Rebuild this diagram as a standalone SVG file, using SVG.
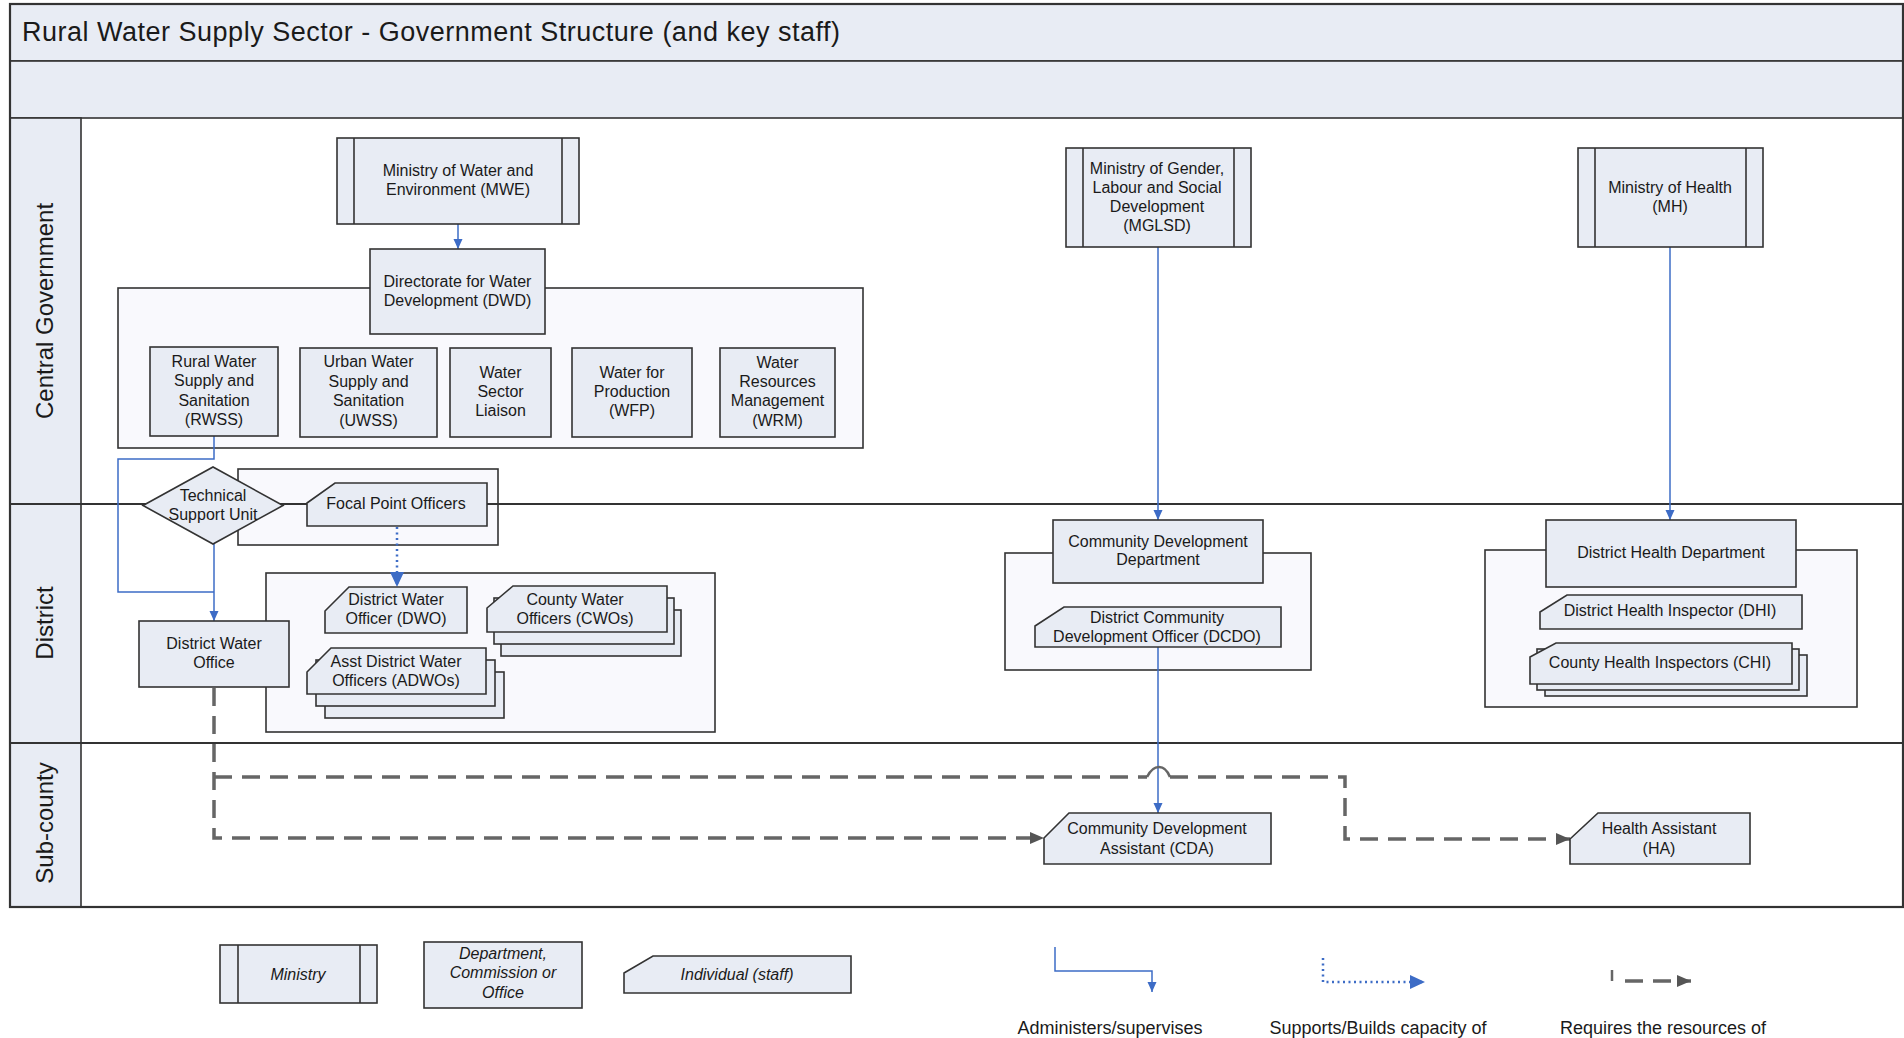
<svg xmlns="http://www.w3.org/2000/svg" width="1904" height="1038" viewBox="0 0 1904 1038">
<style>
  text { font-family: "Liberation Sans", Arial, sans-serif; fill: #1a1a1a; }
  .t { font-size: 16px; text-anchor: middle; }
  .it { font-size: 16px; text-anchor: middle; font-style: italic; }
  .lane { font-size: 24px; text-anchor: middle; }
  .leg { font-size: 18px; text-anchor: middle; }
  .node { fill: #E8ECF4; stroke: #333; stroke-width: 1.6; }
  .inner { stroke: #333; stroke-width: 1.6; fill: none; }
  .cont { fill: #F9F9FD; stroke: #333; stroke-width: 1.6; }
  .band { fill: #E8ECF4; stroke: #333; stroke-width: 1.6; }
  .sep { stroke: #333; stroke-width: 2; fill: none; }
  .adm { stroke: #3D6CC6; stroke-width: 1.5; fill: none; }
  .sup { stroke: #3D6CC6; stroke-width: 2.5; fill: none; stroke-dasharray: 2 3.5; }
  .req { stroke: #666; stroke-width: 3.5; fill: none; stroke-dasharray: 18 10; }
  .hop { stroke: #666; stroke-width: 2.5; fill: none; }
</style>
<defs>
  <marker id="aBlue" markerUnits="userSpaceOnUse" markerWidth="10" markerHeight="10" refX="10" refY="5" orient="auto">
    <path d="M0,0.5 L10,5 L0,9.5 z" fill="#3D6CC6"/>
  </marker>
  <marker id="aDot" markerUnits="userSpaceOnUse" markerWidth="15" markerHeight="14" refX="15" refY="7" orient="auto">
    <path d="M0,0 L15,7 L0,14 z" fill="#3D6CC6"/>
  </marker>
  <marker id="aGray" markerUnits="userSpaceOnUse" markerWidth="14" markerHeight="12" refX="14" refY="6" orient="auto">
    <path d="M0,0 L14,6 L0,12 z" fill="#555"/>
  </marker>
</defs>

<g id="frame">
  <rect x="10" y="4" width="1893" height="903" fill="#fff" stroke="none"/>
  <rect class="band" x="10" y="4" width="1893" height="57"/>
  <rect class="band" x="10" y="61" width="1893" height="57"/>
  <rect class="band" x="10" y="118" width="71" height="789"/>
  <text x="22" y="41" font-size="27" textLength="818" lengthAdjust="spacing">Rural Water Supply Sector - Government Structure (and key staff)</text>
  <text class="lane" transform="translate(53,311) rotate(-90)">Central Government</text>
  <text class="lane" transform="translate(53,623) rotate(-90)">District</text>
  <text class="lane" transform="translate(53,823) rotate(-90)">Sub-county</text>
</g>

<g id="containers">
  <rect id="dwd-container" class="cont" x="118" y="288" width="745" height="160"/>
  <rect id="focal-container" class="cont" x="238" y="469" width="260" height="76"/>
  <rect id="dw-staff-container" class="cont" x="266" y="573" width="449" height="159"/>
  <rect id="cdd-container" class="cont" x="1005" y="553" width="306" height="117"/>
  <rect id="dhd-container" class="cont" x="1485" y="550" width="372" height="157"/>
</g>

<g id="lanes">
  <line class="sep" x1="10" y1="504" x2="1903" y2="504"/>
  <line class="sep" x1="10" y1="743" x2="1903" y2="743"/>
  <rect x="10" y="4" width="1893" height="903" fill="none" stroke="#333" stroke-width="2.2"/>
</g>

<g id="connectors">
  <path class="adm" d="M458,224 L458,249" marker-end="url(#aBlue)"/>
  <path class="adm" d="M214,436 L214,459 L118,459 L118,592 L214,592"/>
  <path class="adm" d="M214,544 L214,621" marker-end="url(#aBlue)"/>
  <path class="sup" d="M397,527 L397,587" marker-end="url(#aDot)"/>
  <path class="adm" d="M1158,247 L1158,520" marker-end="url(#aBlue)"/>
  <path class="adm" d="M1670,247 L1670,520" marker-end="url(#aBlue)"/>
  <path class="adm" d="M1158,647 L1158,813" marker-end="url(#aBlue)"/>
  <path class="req" d="M214,688 L214,838 L1044,838" marker-end="url(#aGray)"/>
  <path class="req" d="M214,777 L1147,777"/>
  <path class="hop" d="M1147,777 Q1152,767 1159,767 Q1166,767 1170,777"/>
  <path class="req" d="M1170,777 L1345,777 L1345,839 L1570,839" marker-end="url(#aGray)"/>
</g>

<g id="mwe">
  <rect class="node" x="337" y="138" width="242" height="86"/>
  <line class="inner" x1="354" y1="138" x2="354" y2="224"/>
  <line class="inner" x1="562" y1="138" x2="562" y2="224"/>
  <text class="t" x="458" y="175.5">Ministry of Water and</text>
  <text class="t" x="458" y="194.5">Environment (MWE)</text>
</g>
<g id="dwd">
  <rect class="node" x="370" y="249" width="175" height="85"/>
  <text class="t" x="457.5" y="286.5">Directorate for Water</text>
  <text class="t" x="457.5" y="305.5">Development (DWD)</text>
</g>
<g id="rwss">
  <rect class="node" x="150" y="347" width="128" height="89"/>
  <text class="t" x="214" y="366.5">Rural Water</text>
  <text class="t" x="214" y="386">Supply and</text>
  <text class="t" x="214" y="405.5">Sanitation</text>
  <text class="t" x="214" y="425">(RWSS)</text>
</g>
<g id="uwss">
  <rect class="node" x="300" y="348" width="137" height="89"/>
  <text class="t" x="368.5" y="367">Urban Water</text>
  <text class="t" x="368.5" y="386.5">Supply and</text>
  <text class="t" x="368.5" y="406">Sanitation</text>
  <text class="t" x="368.5" y="425.5">(UWSS)</text>
</g>
<g id="wsl">
  <rect class="node" x="450" y="348" width="101" height="89"/>
  <text class="t" x="500.5" y="377.5">Water</text>
  <text class="t" x="500.5" y="396.5">Sector</text>
  <text class="t" x="500.5" y="415.5">Liaison</text>
</g>
<g id="wfp">
  <rect class="node" x="572" y="348" width="120" height="89"/>
  <text class="t" x="632" y="377.5">Water for</text>
  <text class="t" x="632" y="396.5">Production</text>
  <text class="t" x="632" y="415.5">(WFP)</text>
</g>
<g id="wrm">
  <rect class="node" x="720" y="348" width="115" height="89"/>
  <text class="t" x="777.5" y="367.5">Water</text>
  <text class="t" x="777.5" y="386.5">Resources</text>
  <text class="t" x="777.5" y="406">Management</text>
  <text class="t" x="777.5" y="425.5">(WRM)</text>
</g>
<g id="tsu">
  <polygon class="node" points="143,505.5 213,467 283,505.5 213,544"/>
  <text class="t" x="213" y="500.5">Technical</text>
  <text class="t" x="213" y="519.5">Support Unit</text>
</g>
<g id="focal">
  <polygon class="node" points="307,503 335,483 487,483 487,526 307,526"/>
  <text class="t" x="396" y="508.5">Focal Point Officers</text>
</g>
<g id="dw-office">
  <rect class="node" x="139" y="621" width="150" height="66"/>
  <text class="t" x="214" y="648.5">District Water</text>
  <text class="t" x="214" y="667.5">Office</text>
</g>
<g id="dwo">
  <polygon class="node" points="325,611 349,587 467,587 467,633 325,633"/>
  <text class="t" x="396" y="604.5">District Water</text>
  <text class="t" x="396" y="623.5">Officer (DWO)</text>
</g>
<g id="cwos">
  <rect class="node" x="501" y="610" width="180" height="46"/>
  <rect class="node" x="494" y="598" width="180" height="46"/>
  <polygon class="node" points="487,608 513,586 667,586 667,632 487,632"/>
  <text class="t" x="575" y="604.5">County Water</text>
  <text class="t" x="575" y="623.5">Officers (CWOs)</text>
</g>
<g id="adwos">
  <rect class="node" x="325" y="672" width="179" height="46"/>
  <rect class="node" x="316" y="660" width="179" height="46"/>
  <polygon class="node" points="307,672 331,648 486,648 486,694 307,694"/>
  <text class="t" x="396" y="666.5">Asst District Water</text>
  <text class="t" x="396" y="685.5">Officers (ADWOs)</text>
</g>
<g id="mglsd">
  <rect class="node" x="1066" y="148" width="185" height="99"/>
  <line class="inner" x1="1083" y1="148" x2="1083" y2="247"/>
  <line class="inner" x1="1234" y1="148" x2="1234" y2="247"/>
  <text class="t" x="1157" y="173.5">Ministry of Gender,</text>
  <text class="t" x="1157" y="192.5">Labour and Social</text>
  <text class="t" x="1157" y="211.5">Development</text>
  <text class="t" x="1157" y="230.5">(MGLSD)</text>
</g>
<g id="mh">
  <rect class="node" x="1578" y="148" width="185" height="99"/>
  <line class="inner" x1="1595" y1="148" x2="1595" y2="247"/>
  <line class="inner" x1="1746" y1="148" x2="1746" y2="247"/>
  <text class="t" x="1670" y="192.5">Ministry of Health</text>
  <text class="t" x="1670" y="212">(MH)</text>
</g>
<g id="cdd">
  <rect class="node" x="1053" y="520" width="210" height="63"/>
  <text class="t" x="1158" y="546.5">Community Development</text>
  <text class="t" x="1158" y="564.5">Department</text>
</g>
<g id="dcdo">
  <polygon class="node" points="1035,626 1064,607 1281,607 1281,647 1035,647"/>
  <text class="t" x="1157" y="622.5">District Community</text>
  <text class="t" x="1157" y="641.5">Development Officer (DCDO)</text>
</g>
<g id="dhd">
  <rect class="node" x="1546" y="520" width="250" height="67"/>
  <text class="t" x="1671" y="557.5">District Health Department</text>
</g>
<g id="dhi">
  <polygon class="node" points="1540,612 1567,595 1802,595 1802,629 1540,629"/>
  <text class="t" x="1670" y="615.5">District Health Inspector (DHI)</text>
</g>
<g id="chi">
  <rect class="node" x="1545" y="655" width="262" height="41"/>
  <rect class="node" x="1537" y="649" width="262" height="41"/>
  <polygon class="node" points="1530,657 1556,643 1792,643 1792,684 1530,684"/>
  <text class="t" x="1660" y="667.5">County Health Inspectors (CHI)</text>
</g>
<g id="cda">
  <polygon class="node" points="1044,838 1069,813 1271,813 1271,864 1044,864"/>
  <text class="t" x="1157" y="833.5">Community Development</text>
  <text class="t" x="1157" y="853.5">Assistant (CDA)</text>
</g>
<g id="ha">
  <polygon class="node" points="1570,839 1598,813 1750,813 1750,864 1570,864"/>
  <text class="t" x="1659" y="833.5">Health Assistant</text>
  <text class="t" x="1659" y="853.5">(HA)</text>
</g>

<g id="legend">
  <g id="leg-ministry">
    <rect class="node" x="220" y="945" width="157" height="58"/>
    <line class="inner" x1="238" y1="945" x2="238" y2="1003"/>
    <line class="inner" x1="360" y1="945" x2="360" y2="1003"/>
    <text class="it" x="298" y="979.5">Ministry</text>
  </g>
  <g id="leg-dept">
    <rect class="node" x="424" y="942" width="158" height="66"/>
    <text class="it" x="503" y="958.5">Department,</text>
    <text class="it" x="503" y="978">Commission or</text>
    <text class="it" x="503" y="997.5">Office</text>
  </g>
  <g id="leg-individual">
    <polygon class="node" points="624,973 653,956 851,956 851,993 624,993"/>
    <text class="it" x="737" y="979.5">Individual (staff)</text>
  </g>
  <g id="leg-lines">
    <path class="adm" d="M1055,947 L1055,971 L1152,971 L1152,992" marker-end="url(#aBlue)"/>
    <path class="sup" d="M1323,958 L1323,982 L1425,982" marker-end="url(#aDot)"/>
    <line x1="1612" y1="970" x2="1612" y2="981" stroke="#666" stroke-width="2.5"/>
    <path class="req" d="M1625,981 L1691,981" stroke-dasharray="18 10" marker-end="url(#aGray)"/>
    <text class="leg" x="1110" y="1034">Administers/supervises</text>
    <text class="leg" x="1378" y="1034">Supports/Builds capacity of</text>
    <text class="leg" x="1663" y="1034">Requires the resources of</text>
  </g>
</g>
</svg>
